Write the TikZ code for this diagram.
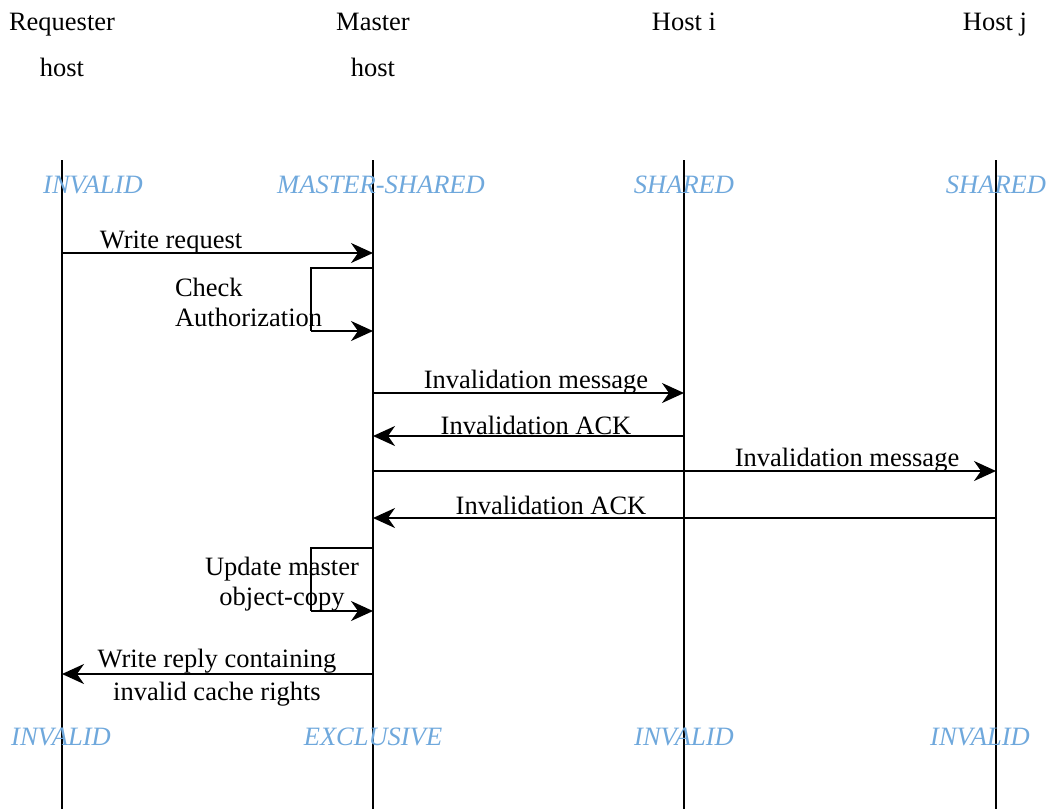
\documentclass[tikz,border=0pt]{standalone}
\usepackage{fontspec}
\setmainfont{Liberation Serif}[ItalicFont={Liberation Serif Italic}]
\usetikzlibrary{arrows.meta}
\definecolor{statecol}{RGB}{111,168,220}
\begin{document}
\begin{tikzpicture}[x=0.5pt,y=-0.5pt,
  every node/.style={inner sep=0pt,outer sep=0pt,font=\fontsize{13.25}{15}\selectfont},
  lbl/.style={anchor=base},
  state/.style={anchor=base,text=statecol,font=\fontsize{13.25}{15}\selectfont\itshape},
  life/.style={line width=1pt},
  msg/.style={line width=1pt,-{Stealth[length=11pt,width=10pt,inset=3.5pt]}},
  loopline/.style={line width=0.8pt}]
\useasboundingbox (0,0) rectangle (1048,809);

% participant headers
\node[lbl] (req1) at (62,30) {Requester};
\node[lbl] (req2) at (62,76) {host};
\node[lbl] (mas1) at (373,30) {Master};
\node[lbl] (mas2) at (373,76) {host};
\node[lbl] (hi) at (684,30) {Host i};
\node[lbl] (hj) at (995,30) {Host j};

% lifelines
\coordinate (Rt) at (62,160);  \coordinate (Rb) at (62,809);
\coordinate (Mt) at (373,160); \coordinate (Mb) at (373,809);
\coordinate (It) at (684,160); \coordinate (Ib) at (684,809);
\coordinate (Jt) at (996,160); \coordinate (Jb) at (996,809);
\draw[life] (Rt) -- (Rb);
\draw[life] (Mt) -- (Mb);
\draw[life] (It) -- (Ib);
\draw[life] (Jt) -- (Jb);

% initial states
\node[state] (s1) at (93,193) {INVALID};
\node[state] (s2) at (381,193) {MASTER-SHARED};
\node[state] (s3) at (684,193) {SHARED};
\node[state] (s4) at (996,193) {SHARED};

% write request
\coordinate (r1) at (62,253); \coordinate (m1) at (373,253);
\draw[msg] (r1) -- (m1);
\node[lbl] (t1) at (171,248) {Write request};

% check authorization (self message)
\coordinate (m2a) at (373,268); \coordinate (c2a) at (311,268);
\coordinate (c2b) at (311,331); \coordinate (m2b) at (373,331);
\draw[loopline] (m2a) -- (c2a) -- (c2b);
\draw[msg] (c2b) -- (m2b);
\node[anchor=base west] (t2a) at (175,296) {Check};
\node[anchor=base west] (t2b) at (175,326) {Authorization};

% invalidation of host i
\coordinate (m3) at (373,393); \coordinate (i3) at (684,393);
\draw[msg] (m3) -- (i3);
\node[lbl] (t3) at (536,388) {Invalidation message};
\coordinate (i4) at (684,436); \coordinate (m4) at (373,436);
\draw[msg] (i4) -- (m4);
\node[lbl] (t4) at (536,434) {Invalidation ACK};

% invalidation of host j
\coordinate (m5) at (373,471); \coordinate (j5) at (996,471);
\draw[msg] (m5) -- (j5);
\node[lbl] (t5) at (847,466) {Invalidation message};
\coordinate (j6) at (996,518); \coordinate (m6) at (373,518);
\draw[msg] (j6) -- (m6);
\node[lbl] (t6) at (551,514) {Invalidation ACK};

% update master copy (self message)
\coordinate (m7a) at (373,548); \coordinate (c7a) at (311,548);
\coordinate (c7b) at (311,611); \coordinate (m7b) at (373,611);
\draw[loopline] (m7a) -- (c7a) -- (c7b);
\draw[msg] (c7b) -- (m7b);
\node[lbl] (t7a) at (282,575) {Update master};
\node[lbl] (t7b) at (282,605) {object-copy};

% write reply
\coordinate (m8) at (373,674); \coordinate (r8) at (62,674);
\draw[msg] (m8) -- (r8);
\node[lbl] (t8a) at (217,667) {Write reply containing};
\node[lbl] (t8b) at (217,700) {invalid cache rights};

% final states
\node[state] (f1) at (61,745) {INVALID};
\node[state] (f2) at (373,745) {EXCLUSIVE};
\node[state] (f3) at (684,745) {INVALID};
\node[state] (f4) at (980,745) {INVALID};
\end{tikzpicture}
\end{document}
